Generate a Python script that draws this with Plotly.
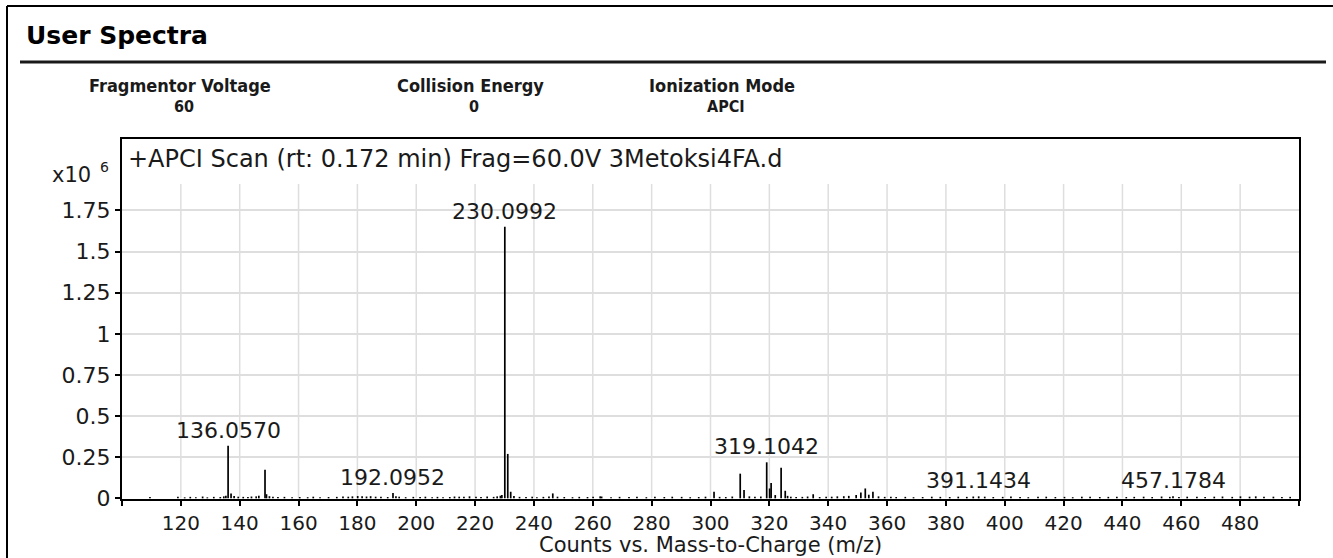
import plotly.graph_objects as go

# ---- spectrum data (intensity in units of 10^6 counts) ----
major_mz = [136.0570, 192.0952, 230.0992, 319.1042, 391.1434, 457.1784]
major_int = [0.320, 0.033, 1.650, 0.219, 0.012, 0.012]

minor_mz = [137.06, 148.60, 149.10, 229.10, 231.10, 232.10, 246.40, 262.50,
            301.20, 310.10, 311.40, 320.10, 320.60, 322.00, 324.00, 325.40,
            326.20, 334.90, 349.50, 351.10, 352.60, 353.80, 355.20, 485.30]
minor_int = [0.030, 0.174, 0.025, 0.020, 0.270, 0.040, 0.030, 0.012,
             0.040, 0.150, 0.050, 0.060, 0.093, 0.020, 0.186, 0.046,
             0.015, 0.025, 0.020, 0.035, 0.060, 0.022, 0.040, 0.012]

noise_mz = [109.5, 119.0, 121.3, 123.2, 125.1, 127.4, 129.0, 131.2, 133.4, 134.6,
            135.3, 138.1, 139.5, 141.2, 142.8, 144.0, 145.6, 146.5, 150.1, 151.3,
            153.0, 155.2, 157.8, 160.4, 163.1, 165.0, 167.3, 170.2, 173.0, 175.1,
            176.9, 178.3, 180.1, 181.6, 183.1, 184.5, 186.2, 188.0, 190.3, 193.1,
            194.2, 196.4, 199.0, 201.3, 203.1, 205.4, 207.2, 209.1, 211.4, 213.0,
            214.6, 216.2, 218.1, 220.3, 222.0, 224.1, 226.3, 227.5, 228.6, 233.2,
            235.1, 237.3, 239.4, 241.0, 243.2, 245.1, 248.0, 250.3, 253.1, 255.4,
            258.2, 260.1, 263.0, 266.2, 269.1, 272.3, 275.0, 278.2, 281.1, 284.3,
            287.0, 290.2, 293.1, 296.0, 298.3, 303.1, 305.2, 307.4, 313.2, 315.1,
            317.1, 327.3, 329.1, 331.2, 333.0, 337.1, 339.3, 341.2, 343.1, 345.3,
            347.0, 357.1, 359.2, 361.3, 363.1, 366.2, 369.0, 372.1, 375.2, 378.1,
            381.3, 384.2, 387.1, 389.3, 393.2, 396.1, 399.3, 402.1, 405.2, 408.0,
            411.3, 414.1, 417.2, 420.3, 423.1, 426.2, 429.0, 432.3, 435.2, 438.1,
            441.3, 444.0, 447.2, 450.1, 453.3, 456.1, 459.2, 462.0, 465.3, 468.1,
            471.2, 474.0, 477.3, 480.1, 483.2, 488.1, 491.3, 494.2, 497.0]
noise_int = [0.008, 0.010, 0.006, 0.009, 0.007, 0.011, 0.006, 0.009, 0.008, 0.012,
             0.015, 0.014, 0.010, 0.009, 0.008, 0.011, 0.012, 0.016, 0.013, 0.010,
             0.008, 0.009, 0.006, 0.008, 0.007, 0.010, 0.006, 0.008, 0.009, 0.011,
             0.010, 0.012, 0.014, 0.012, 0.011, 0.013, 0.010, 0.009, 0.008, 0.012,
             0.010, 0.007, 0.009, 0.008, 0.010, 0.007, 0.009, 0.006, 0.008, 0.011,
             0.010, 0.009, 0.012, 0.010, 0.008, 0.011, 0.009, 0.012, 0.016, 0.014,
             0.009, 0.008, 0.010, 0.007, 0.009, 0.011, 0.010, 0.008, 0.007, 0.009,
             0.008, 0.010, 0.011, 0.007, 0.009, 0.008, 0.010, 0.007, 0.009, 0.008,
             0.010, 0.009, 0.007, 0.008, 0.010, 0.009, 0.008, 0.011, 0.012, 0.010,
             0.011, 0.010, 0.008, 0.009, 0.011, 0.008, 0.009, 0.010, 0.012, 0.013,
             0.015, 0.012, 0.009, 0.010, 0.008, 0.009, 0.007, 0.008, 0.010, 0.009,
             0.008, 0.010, 0.009, 0.011, 0.010, 0.008, 0.009, 0.011, 0.008, 0.007,
             0.009, 0.010, 0.008, 0.009, 0.007, 0.010, 0.009, 0.008, 0.009, 0.010,
             0.008, 0.009, 0.010, 0.008, 0.011, 0.009, 0.008, 0.010, 0.009, 0.008,
             0.010, 0.011, 0.009, 0.012, 0.010, 0.009, 0.010, 0.008, 0.009]

x_ticks = list(range(100, 501, 20))
x_ticktext = ["" if v in (100, 500) else str(v) for v in x_ticks]
y_ticks = [0, 0.25, 0.5, 0.75, 1, 1.25, 1.5, 1.75]
y_ticktext = ["0", "0.25", "0.5", "0.75", "1", "1.25", "1.5", "1.75"]
grid_x = list(range(120, 481, 20))

header_labels = ["Fragmentor Voltage", "Collision Energy", "Ionization Mode"]
header_values = ["60", "0", "APCI"]

scan_title = "+APCI Scan (rt: 0.172 min) Frag=60.0V 3Metoksi4FA.d"
x_title = "Counts vs. Mass-to-Charge (m/z)"

# ---- page geometry (pixels) ----
W, H = 1333, 558
PL, PR, PT, PB = 122, 1299, 139, 499
FONT = "DejaVu Sans, Verdana, sans-serif"
HFONT = "DejaVu Sans Condensed, DejaVu Sans, Tahoma, sans-serif"
INK = "#1a1a1a"


def fx(px):
    return (px - PL) / (PR - PL)


def fy(py):
    return (PB - py) / (PB - PT)


# stick spectrum: one vertical segment per peak
all_mz = noise_mz + minor_mz + major_mz
all_int = noise_int + minor_int + major_int
xs, ys = [], []
for m, h in zip(all_mz, all_int):
    xs += [m, m, None]
    ys += [0, h, None]

fig = go.Figure()
fig.add_trace(go.Scatter(x=xs, y=ys, mode="lines",
                         line=dict(color="black", width=1.7),
                         hoverinfo="skip", showlegend=False))

shapes = []
# vertical grid lines (stop below the scan title)
for gx in grid_x:
    shapes.append(dict(type="line", xref="x", yref="y", x0=gx, x1=gx,
                       y0=0, y1=1.91, layer="below",
                       line=dict(color="#dedede", width=1.5)))
# outer page frame
shapes.append(dict(type="line", xref="paper", yref="paper",
                   x0=fx(7), x1=fx(W + 5), y0=fy(6), y1=fy(6),
                   line=dict(color="black", width=2)))
shapes.append(dict(type="line", xref="paper", yref="paper",
                   x0=fx(7), x1=fx(7), y0=fy(6), y1=fy(H + 5),
                   line=dict(color="black", width=2)))
# header rule
shapes.append(dict(type="line", xref="paper", yref="paper",
                   x0=fx(20), x1=fx(1326), y0=fy(62), y1=fy(62),
                   line=dict(color=INK, width=3)))

annotations = []
# section title
annotations.append(dict(text="<b>User Spectra</b>", xref="paper", yref="paper",
                        x=fx(24), y=fy(36), xanchor="left", yanchor="middle",
                        showarrow=False, font=dict(family=FONT, size=25, color="black")))
# acquisition parameters
for cx, lab, val in zip([180, 470, 722], header_labels, header_values):
    annotations.append(dict(text="<b>%s</b>" % lab, xref="paper", yref="paper",
                            x=fx(cx), y=fy(85), xanchor="center", yanchor="middle",
                            showarrow=False, borderpad=0,
                            font=dict(family=HFONT, size=18, color=INK)))
    annotations.append(dict(text="<b>%s</b>" % val, xref="paper", yref="paper",
                            x=fx(cx + 4), y=fy(106), xanchor="center", yanchor="middle",
                            showarrow=False, borderpad=0,
                            font=dict(family=HFONT, size=16, color=INK)))
# scan description inside the plot
annotations.append(dict(text=scan_title, xref="paper", yref="paper",
                        x=fx(126), y=fy(159), xanchor="left", yanchor="middle",
                        showarrow=False, font=dict(family=FONT, size=24, color=INK)))
# y scale multiplier
annotations.append(dict(text="x10", xref="paper", yref="paper",
                        x=fx(93), y=fy(175), xanchor="right", yanchor="middle",
                        showarrow=False, font=dict(family=FONT, size=21, color=INK)))
annotations.append(dict(text="6", xref="paper", yref="paper",
                        x=fx(104), y=fy(167), xanchor="center", yanchor="middle",
                        showarrow=False, font=dict(family=FONT, size=14, color=INK)))
# x axis title
annotations.append(dict(text=x_title, xref="paper", yref="paper",
                        x=0.5, y=fy(545), xanchor="center", yanchor="middle",
                        showarrow=False, borderpad=0,
                        font=dict(family=FONT, size=21, color=INK)))
# peak labels
for m, h in zip(major_mz, major_int):
    annotations.append(dict(text="%.4f" % m, x=m, y=h, xref="x", yref="y",
                            xanchor="center", yanchor="bottom", yshift=1,
                            showarrow=False, font=dict(family=FONT, size=22, color=INK)))

fig.update_layout(
    width=W, height=H,
    margin=dict(l=PL, r=W - PR, t=PT, b=H - PB),
    paper_bgcolor="white", plot_bgcolor="white",
    showlegend=False,
    shapes=shapes, annotations=annotations,
    xaxis=dict(range=[100, 500], tickmode="array", tickvals=x_ticks, ticktext=x_ticktext,
               ticks="outside", ticklen=5, tickwidth=1.5, tickcolor="black",
               showgrid=False, zeroline=False,
               showline=True, linecolor="black", linewidth=2, mirror=True,
               tickfont=dict(family=FONT, size=20, color=INK)),
    yaxis=dict(range=[-0.004, 2.184], tickmode="array", tickvals=y_ticks, ticktext=y_ticktext,
               ticks="outside", ticklen=5, tickwidth=1.5, tickcolor="black",
               showgrid=True, gridcolor="#dedede", gridwidth=1.5, zeroline=False,
               showline=True, linecolor="black", linewidth=2, mirror=True,
               tickfont=dict(family=FONT, size=22, color=INK)),
)

fig.write_html("out.html")
